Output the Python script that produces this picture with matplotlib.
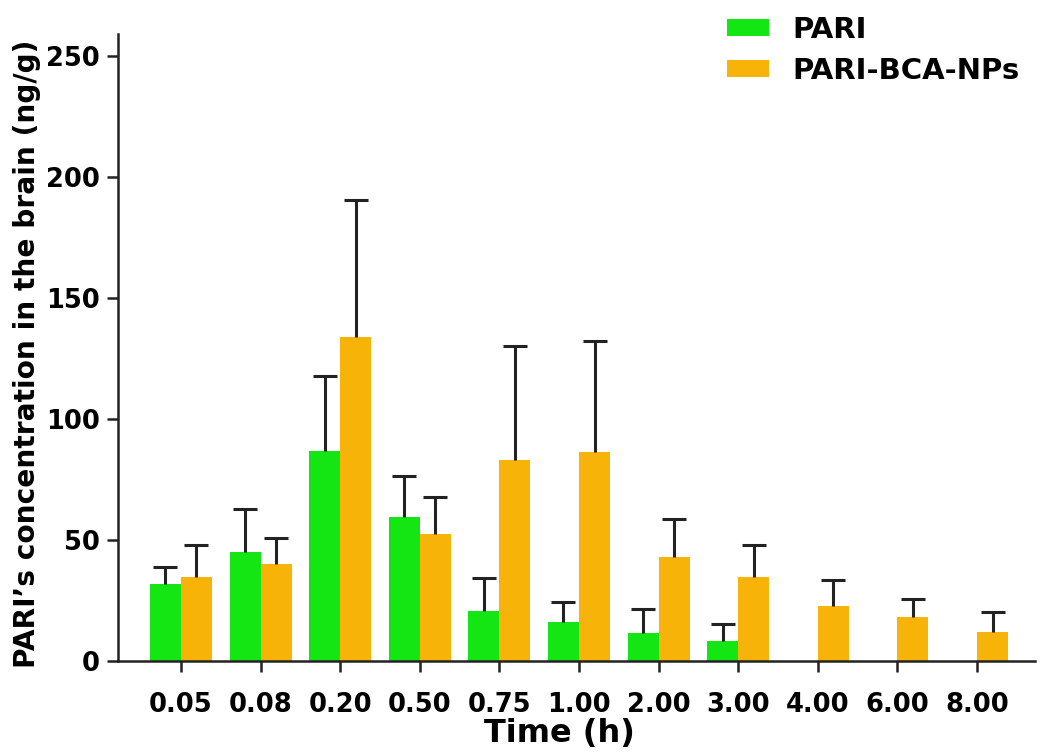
import numpy as np
import matplotlib
matplotlib.use("Agg")
import matplotlib.pyplot as plt

plt.rcParams["font.family"] = ["DejaVu Sans"]
plt.rcParams["font.weight"] = "bold"

# time points (h)
time_labels = ["0.05", "0.08", "0.20", "0.50", "0.75", "1.00", "2.00", "3.00", "4.00", "6.00", "8.00"]

# mean brain concentration (ng/g) and upper SD
pari_mean = [31.8, 45.0, 86.7, 59.6, 20.6, 16.1, 11.5, 8.3, np.nan, np.nan, np.nan]
pari_sd = [7.0, 17.8, 31.1, 16.8, 13.6, 8.2, 10.0, 7.0, np.nan, np.nan, np.nan]
nps_mean = [34.6, 40.0, 133.9, 52.3, 83.2, 86.2, 43.1, 34.7, 22.7, 18.2, 12.0]
nps_sd = [13.5, 10.7, 56.6, 15.6, 47.1, 46.0, 15.6, 13.2, 10.7, 7.4, 8.2]

green = "#14e614"
orange = "#f8b308"

fig = plt.figure(figsize=(10.41, 7.55), dpi=100)
ax = fig.add_axes([0.1134, 0.1245, 0.881, 0.8305])

x = np.arange(len(time_labels))
w = 0.39
err_kw = dict(ecolor="#222222", elinewidth=2.2, capsize=8.5, capthick=2.2)

ax.bar(x - w / 2, pari_mean, w, color=green, label="PARI")
ax.bar(x + w / 2, nps_mean, w, color=orange, label="PARI-BCA-NPs")
for xs, m, sd in [(x - w / 2, pari_mean, pari_sd), (x + w / 2, nps_mean, nps_sd)]:
    eb = ax.errorbar(xs, m, yerr=[np.zeros(len(x)), sd], fmt="none", **err_kw)
    # upper error only: hide the lower caps
    eb[1][0].set_visible(False)

ax.set_xlim(-0.79, 10.73)
ax.set_ylim(0, 259)
ax.set_yticks([0, 50, 100, 150, 200, 250])
ax.set_xticks(x)
ax.set_xticklabels(time_labels)

for side in ["top", "right"]:
    ax.spines[side].set_visible(False)
for side in ["left", "bottom"]:
    ax.spines[side].set_linewidth(1.8)
    ax.spines[side].set_color("#222222")

ax.tick_params(axis="both", length=8, width=1.8, color="#222222", labelsize=18.5)
ax.tick_params(axis="x", pad=14)
ax.tick_params(axis="y", pad=5)
for lab in ax.get_xticklabels() + ax.get_yticklabels():
    lab.set_fontweight("bold")

ax.set_xlabel("Time (h)", fontsize=23, fontweight="bold")
ax.set_ylabel("PARI\u2019s concentration in the brain (ng/g)", fontsize=20.2, fontweight="bold")
ax.xaxis.set_label_coords(0.481, -0.091)
ax.yaxis.set_label_coords(-0.084, 0.49)

leg = ax.legend(loc="upper right", bbox_to_anchor=(1.012, 1.07), frameon=False, fontsize=21,
                handlelength=1.45, handleheight=0.52, handletextpad=0.8, labelspacing=0.42)
for t in leg.get_texts():
    t.set_fontweight("bold")

fig.savefig("out.png", dpi=100)
